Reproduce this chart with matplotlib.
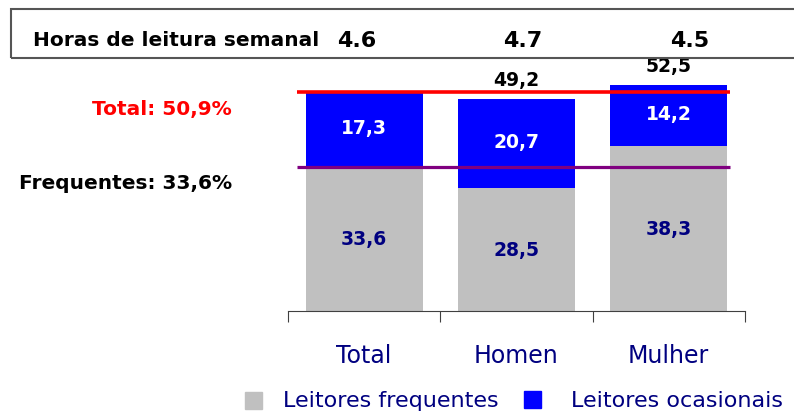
import matplotlib.pyplot as plt
from matplotlib.patches import Rectangle

categorias = ['Total', 'Homen', 'Mulher']
frequentes = [33.6, 28.5, 38.3]
ocasionais = [17.3, 20.7, 14.2]
totais_label = ['', '49,2', '52,5']
horas = ['4.6', '4.7', '4.5']
media_total = 50.9
media_freq = 33.6

plt.rcParams['font.family'] = ['DejaVu Sans']

fig = plt.figure(figsize=(7.94, 4.14), dpi=100)
W, H = 794, 414
ax = fig.add_axes([288 / W, (H - 312) / H, (745 - 288) / W, 258 / H])

x = list(range(len(categorias)))
ax.bar(x, frequentes, width=0.77, color='#C0C0C0', zorder=2)
ax.bar(x, ocasionais, width=0.77, bottom=frequentes, color='#0000FF', zorder=2)

for i in x:
    ax.text(i, frequentes[i] / 2, f'{frequentes[i]:.1f}'.replace('.', ','),
            ha='center', va='center', color='#000080', fontsize=13.5, fontweight='bold', zorder=4)
    ax.text(i, frequentes[i] + ocasionais[i] / 2 + 0.5, f'{ocasionais[i]:.1f}'.replace('.', ','),
            ha='center', va='center', color='white', fontsize=13.5, fontweight='bold', zorder=4)
    if totais_label[i]:
        ax.text(i, frequentes[i] + ocasionais[i] + 4.7, totais_label[i],
                ha='center', va='center', color='black', fontsize=13.5, fontweight='bold', zorder=4)

# linhas de referencia
ax.plot([-0.44, 2.40], [media_total, media_total], color='#FF0000', lw=2.6, zorder=3,
        solid_capstyle='butt')
ax.plot([-0.44, 2.40], [media_freq, media_freq], color='#800080', lw=2.3, zorder=3,
        solid_capstyle='butt')

ax.set_xlim(-0.5, 2.5)
ax.set_ylim(0, 60)
for s in ['top', 'right', 'left']:
    ax.spines[s].set_visible(False)
ax.spines['bottom'].set_color('#404040')
ax.set_yticks([])
ax.set_xticks([-0.5, 0.5, 1.5, 2.5])
ax.set_xticklabels([])
ax.tick_params(axis='x', direction='out', length=8, color='#404040')
ax.patch.set_alpha(0)

for i, c in enumerate(categorias):
    fig.text((288 + 152 * (i + 0.5)) / W, 1 - 356 / H, c, ha='center', va='center',
             color='#000080', fontsize=17)

# caixa de horas de leitura
fig.patches.append(Rectangle((11 / W, 1 - 59 / H), 800 / W, 49 / H, transform=fig.transFigure,
                             fill=False, edgecolor='#555555', lw=1.5))
fig.text(33 / W, 1 - 41 / H, 'Horas de leitura semanal', ha='left', va='center',
         fontsize=14.5, fontweight='bold', color='black')
for xc, h in zip([357, 523, 690], horas):
    fig.text(xc / W, 1 - 41 / H, h, ha='center', va='center',
             fontsize=16, fontweight='bold', color='black')

# rotulos a esquerda
fig.text(232 / W, 1 - 110 / H, 'Total: 50,9%', ha='right', va='center',
         fontsize=14.5, fontweight='bold', color='#FF0000')
fig.text(232 / W, 1 - 184 / H, 'Frequentes: 33,6%', ha='right', va='center',
         fontsize=14.5, fontweight='bold', color='black')

# legenda
fig.patches.append(Rectangle((245 / W, 1 - 410 / H), 17 / W, 17 / H, transform=fig.transFigure,
                             color='#C0C0C0'))
fig.text(283 / W, 1 - 401 / H, 'Leitores frequentes', ha='left', va='center',
         fontsize=16, color='#000080')
fig.patches.append(Rectangle((524 / W, 1 - 409 / H), 17 / W, 17 / H, transform=fig.transFigure,
                             color='#0000FF'))
fig.text(571 / W, 1 - 401 / H, 'Leitores ocasionais', ha='left', va='center',
         fontsize=16, color='#000080')

fig.savefig('out.png', dpi=100)
